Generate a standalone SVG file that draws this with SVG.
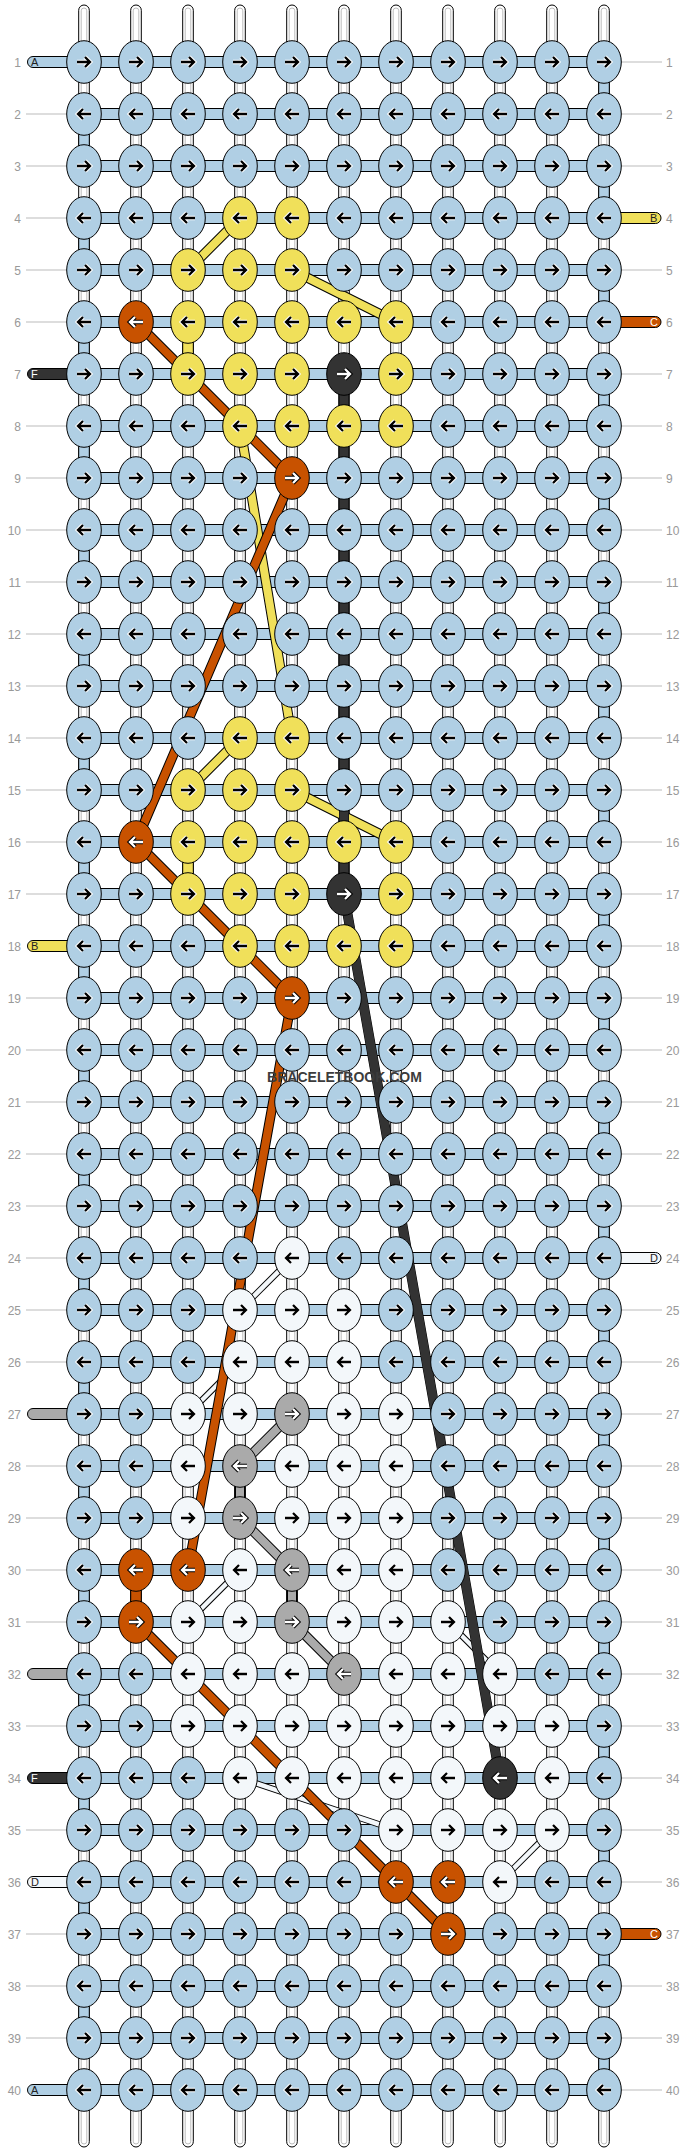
<svg xmlns="http://www.w3.org/2000/svg" xmlns:xlink="http://www.w3.org/1999/xlink" width="688" height="2152" viewBox="0 0 688 2152">
<style>
.b{fill:#b0cfe4}.y{fill:#f0e05a}.o{fill:#c85200}.k{fill:#333}.w{fill:#f3f7fa}.g{fill:#aaa}
.lb{fill:#999;font-family:"Liberation Sans",Arial,sans-serif;font-size:12px}
.tl{font-family:"Liberation Sans",Arial,sans-serif;font-size:11px;fill:#222}
.ll{stroke:#bbb;stroke-width:1}
.hb{fill:#b0cfe4;stroke:#000;stroke-width:1}
.ol{fill:none;stroke:#000;stroke-width:10;stroke-linejoin:round}
.olt{fill:none;stroke:#000;stroke-width:6.5;stroke-linejoin:round}
</style>
<defs>
<ellipse id="E" rx="17.3" ry="21.3" stroke="#000" stroke-width="1"/>
<g id="R" fill="none"><path d="M-7,0H5M1,-5L6,0L1,5" stroke="#fff" stroke-width="4.4"/><path d="M-7,0H5M1,-5L6,0L1,5" stroke="#000" stroke-width="2.3"/></g>
<g id="L" fill="none"><path d="M7,0H-5M-1,-5L-6,0L-1,5" stroke="#fff" stroke-width="4.4"/><path d="M7,0H-5M-1,-5L-6,0L-1,5" stroke="#000" stroke-width="2.3"/></g>
<g id="RW" fill="none"><path d="M-7,0H5M1,-5L6,0L1,5" stroke="#000" stroke-width="4.4"/><path d="M-7,0H5M1,-5L6,0L1,5" stroke="#fff" stroke-width="2.3"/></g>
<g id="LW" fill="none"><path d="M7,0H-5M-1,-5L-6,0L-1,5" stroke="#000" stroke-width="4.4"/><path d="M7,0H-5M-1,-5L-6,0L-1,5" stroke="#fff" stroke-width="2.3"/></g>
<g id="VS"><rect x="-5.3" y="0" width="10.6" height="2142" rx="5.3" fill="#fff" stroke="#000"/><rect x="-2.8" y="3" width="5.6" height="2136" rx="2.8" fill="none" stroke="#bdbdbd"/></g>
<rect id="VB" x="-5.3" y="15" width="10.6" height="22" class="b" stroke="#000"/>
</defs>
<rect width="688" height="2152" fill="#fff"/>
<g id="labels">
<g class="ll">
<line x1="26" y1="114" x2="68" y2="114"/><line x1="26" y1="166" x2="68" y2="166"/><line x1="26" y1="218" x2="68" y2="218"/><line x1="26" y1="270" x2="68" y2="270"/><line x1="26" y1="322" x2="68" y2="322"/><line x1="26" y1="426" x2="68" y2="426"/><line x1="26" y1="478" x2="68" y2="478"/><line x1="26" y1="530" x2="68" y2="530"/><line x1="26" y1="582" x2="68" y2="582"/><line x1="26" y1="634" x2="68" y2="634"/><line x1="26" y1="686" x2="68" y2="686"/><line x1="26" y1="738" x2="68" y2="738"/><line x1="26" y1="790" x2="68" y2="790"/><line x1="26" y1="842" x2="68" y2="842"/><line x1="26" y1="894" x2="68" y2="894"/><line x1="26" y1="998" x2="68" y2="998"/><line x1="26" y1="1050" x2="68" y2="1050"/><line x1="26" y1="1102" x2="68" y2="1102"/><line x1="26" y1="1154" x2="68" y2="1154"/><line x1="26" y1="1206" x2="68" y2="1206"/><line x1="26" y1="1258" x2="68" y2="1258"/><line x1="26" y1="1310" x2="68" y2="1310"/><line x1="26" y1="1362" x2="68" y2="1362"/><line x1="26" y1="1466" x2="68" y2="1466"/><line x1="26" y1="1518" x2="68" y2="1518"/><line x1="26" y1="1570" x2="68" y2="1570"/><line x1="26" y1="1622" x2="68" y2="1622"/><line x1="26" y1="1726" x2="68" y2="1726"/><line x1="26" y1="1830" x2="68" y2="1830"/><line x1="26" y1="1934" x2="68" y2="1934"/><line x1="26" y1="1986" x2="68" y2="1986"/><line x1="26" y1="2038" x2="68" y2="2038"/>
<line x1="620" y1="62" x2="662" y2="62"/><line x1="620" y1="114" x2="662" y2="114"/><line x1="620" y1="166" x2="662" y2="166"/><line x1="620" y1="270" x2="662" y2="270"/><line x1="620" y1="374" x2="662" y2="374"/><line x1="620" y1="426" x2="662" y2="426"/><line x1="620" y1="478" x2="662" y2="478"/><line x1="620" y1="530" x2="662" y2="530"/><line x1="620" y1="582" x2="662" y2="582"/><line x1="620" y1="634" x2="662" y2="634"/><line x1="620" y1="686" x2="662" y2="686"/><line x1="620" y1="738" x2="662" y2="738"/><line x1="620" y1="790" x2="662" y2="790"/><line x1="620" y1="842" x2="662" y2="842"/><line x1="620" y1="894" x2="662" y2="894"/><line x1="620" y1="946" x2="662" y2="946"/><line x1="620" y1="998" x2="662" y2="998"/><line x1="620" y1="1050" x2="662" y2="1050"/><line x1="620" y1="1102" x2="662" y2="1102"/><line x1="620" y1="1154" x2="662" y2="1154"/><line x1="620" y1="1206" x2="662" y2="1206"/><line x1="620" y1="1310" x2="662" y2="1310"/><line x1="620" y1="1362" x2="662" y2="1362"/><line x1="620" y1="1414" x2="662" y2="1414"/><line x1="620" y1="1466" x2="662" y2="1466"/><line x1="620" y1="1518" x2="662" y2="1518"/><line x1="620" y1="1570" x2="662" y2="1570"/><line x1="620" y1="1622" x2="662" y2="1622"/><line x1="620" y1="1674" x2="662" y2="1674"/><line x1="620" y1="1726" x2="662" y2="1726"/><line x1="620" y1="1778" x2="662" y2="1778"/><line x1="620" y1="1830" x2="662" y2="1830"/><line x1="620" y1="1882" x2="662" y2="1882"/><line x1="620" y1="1986" x2="662" y2="1986"/><line x1="620" y1="2038" x2="662" y2="2038"/><line x1="620" y1="2090" x2="662" y2="2090"/>
</g>
<g class="lb" text-anchor="end">
<text x="21" y="66.5">1</text><text x="21" y="118.5">2</text><text x="21" y="170.5">3</text><text x="21" y="222.5">4</text><text x="21" y="274.5">5</text><text x="21" y="326.5">6</text><text x="21" y="378.5">7</text><text x="21" y="430.5">8</text><text x="21" y="482.5">9</text><text x="21" y="534.5">10</text><text x="21" y="586.5">11</text><text x="21" y="638.5">12</text><text x="21" y="690.5">13</text><text x="21" y="742.5">14</text><text x="21" y="794.5">15</text><text x="21" y="846.5">16</text><text x="21" y="898.5">17</text><text x="21" y="950.5">18</text><text x="21" y="1002.5">19</text><text x="21" y="1054.5">20</text><text x="21" y="1106.5">21</text><text x="21" y="1158.5">22</text><text x="21" y="1210.5">23</text><text x="21" y="1262.5">24</text><text x="21" y="1314.5">25</text><text x="21" y="1366.5">26</text><text x="21" y="1418.5">27</text><text x="21" y="1470.5">28</text><text x="21" y="1522.5">29</text><text x="21" y="1574.5">30</text><text x="21" y="1626.5">31</text><text x="21" y="1678.5">32</text><text x="21" y="1730.5">33</text><text x="21" y="1782.5">34</text><text x="21" y="1834.5">35</text><text x="21" y="1886.5">36</text><text x="21" y="1938.5">37</text><text x="21" y="1990.5">38</text><text x="21" y="2042.5">39</text><text x="21" y="2094.5">40</text>
</g>
<g class="lb">
<text x="666" y="66.5">1</text><text x="666" y="118.5">2</text><text x="666" y="170.5">3</text><text x="666" y="222.5">4</text><text x="666" y="274.5">5</text><text x="666" y="326.5">6</text><text x="666" y="378.5">7</text><text x="666" y="430.5">8</text><text x="666" y="482.5">9</text><text x="666" y="534.5">10</text><text x="666" y="586.5">11</text><text x="666" y="638.5">12</text><text x="666" y="690.5">13</text><text x="666" y="742.5">14</text><text x="666" y="794.5">15</text><text x="666" y="846.5">16</text><text x="666" y="898.5">17</text><text x="666" y="950.5">18</text><text x="666" y="1002.5">19</text><text x="666" y="1054.5">20</text><text x="666" y="1106.5">21</text><text x="666" y="1158.5">22</text><text x="666" y="1210.5">23</text><text x="666" y="1262.5">24</text><text x="666" y="1314.5">25</text><text x="666" y="1366.5">26</text><text x="666" y="1418.5">27</text><text x="666" y="1470.5">28</text><text x="666" y="1522.5">29</text><text x="666" y="1574.5">30</text><text x="666" y="1626.5">31</text><text x="666" y="1678.5">32</text><text x="666" y="1730.5">33</text><text x="666" y="1782.5">34</text><text x="666" y="1834.5">35</text><text x="666" y="1886.5">36</text><text x="666" y="1938.5">37</text><text x="666" y="1990.5">38</text><text x="666" y="2042.5">39</text><text x="666" y="2094.5">40</text>
</g>
</g>
<g id="connectors">
<use href="#VS" x="84" y="5"/><use href="#VS" x="136" y="5"/><use href="#VS" x="188" y="5"/><use href="#VS" x="240" y="5"/><use href="#VS" x="292" y="5"/><use href="#VS" x="344" y="5"/><use href="#VS" x="396" y="5"/><use href="#VS" x="448" y="5"/><use href="#VS" x="500" y="5"/><use href="#VS" x="552" y="5"/><use href="#VS" x="604" y="5"/>
<g id="edges">
<use href="#VB" x="604" y="62"/><use href="#VB" x="604" y="166"/><use href="#VB" x="604" y="270"/><use href="#VB" x="604" y="374"/><use href="#VB" x="604" y="478"/><use href="#VB" x="604" y="582"/><use href="#VB" x="604" y="686"/><use href="#VB" x="604" y="790"/><use href="#VB" x="604" y="894"/><use href="#VB" x="604" y="998"/><use href="#VB" x="604" y="1102"/><use href="#VB" x="604" y="1206"/><use href="#VB" x="604" y="1310"/><use href="#VB" x="604" y="1414"/><use href="#VB" x="604" y="1518"/><use href="#VB" x="604" y="1622"/><use href="#VB" x="604" y="1726"/><use href="#VB" x="604" y="1830"/><use href="#VB" x="604" y="1934"/><use href="#VB" x="604" y="2038"/>
<use href="#VB" x="84" y="114"/><use href="#VB" x="84" y="218"/><use href="#VB" x="84" y="322"/><use href="#VB" x="84" y="426"/><use href="#VB" x="84" y="530"/><use href="#VB" x="84" y="634"/><use href="#VB" x="84" y="738"/><use href="#VB" x="84" y="842"/><use href="#VB" x="84" y="946"/><use href="#VB" x="84" y="1050"/><use href="#VB" x="84" y="1154"/><use href="#VB" x="84" y="1258"/><use href="#VB" x="84" y="1362"/><use href="#VB" x="84" y="1466"/><use href="#VB" x="84" y="1570"/><use href="#VB" x="84" y="1674"/><use href="#VB" x="84" y="1778"/><use href="#VB" x="84" y="1882"/><use href="#VB" x="84" y="1986"/>
</g>
<g id="rowbars" class="hb">
<rect x="84" y="56.5" width="520" height="11"/><rect x="84" y="108.5" width="520" height="11"/><rect x="84" y="160.5" width="520" height="11"/><rect x="84" y="212.5" width="520" height="11"/><rect x="84" y="264.5" width="520" height="11"/><rect x="84" y="316.5" width="520" height="11"/><rect x="84" y="368.5" width="520" height="11"/><rect x="84" y="420.5" width="520" height="11"/><rect x="84" y="472.5" width="520" height="11"/><rect x="84" y="524.5" width="520" height="11"/><rect x="84" y="576.5" width="520" height="11"/><rect x="84" y="628.5" width="520" height="11"/><rect x="84" y="680.5" width="520" height="11"/><rect x="84" y="732.5" width="520" height="11"/><rect x="84" y="784.5" width="520" height="11"/><rect x="84" y="836.5" width="520" height="11"/><rect x="84" y="888.5" width="520" height="11"/><rect x="84" y="940.5" width="520" height="11"/><rect x="84" y="992.5" width="520" height="11"/><rect x="84" y="1044.5" width="520" height="11"/><rect x="84" y="1096.5" width="520" height="11"/><rect x="84" y="1148.5" width="520" height="11"/><rect x="84" y="1200.5" width="520" height="11"/><rect x="84" y="1252.5" width="520" height="11"/><rect x="84" y="1304.5" width="520" height="11"/><rect x="84" y="1356.5" width="520" height="11"/><rect x="84" y="1408.5" width="520" height="11"/><rect x="84" y="1460.5" width="520" height="11"/><rect x="84" y="1512.5" width="520" height="11"/><rect x="84" y="1564.5" width="520" height="11"/><rect x="84" y="1616.5" width="520" height="11"/><rect x="84" y="1668.5" width="520" height="11"/><rect x="84" y="1720.5" width="520" height="11"/><rect x="84" y="1772.5" width="520" height="11"/><rect x="84" y="1824.5" width="520" height="11"/><rect x="84" y="1876.5" width="520" height="11"/><rect x="84" y="1928.5" width="520" height="11"/><rect x="84" y="1980.5" width="520" height="11"/><rect x="84" y="2032.5" width="520" height="11"/><rect x="84" y="2084.5" width="520" height="11"/>
</g>
<g id="tails" stroke="#000" stroke-width="1">
<rect x="27.5" y="56.5" width="60" height="11" rx="5.5" class="b"/>
<rect x="27.5" y="368.5" width="60" height="11" rx="5.5" class="k"/>
<rect x="27.5" y="940.5" width="60" height="11" rx="5.5" class="y"/>
<rect x="27.5" y="1408.5" width="60" height="11" rx="5.5" class="g"/>
<rect x="27.5" y="1668.5" width="60" height="11" rx="5.5" class="g"/>
<rect x="27.5" y="1772.5" width="60" height="11" rx="5.5" class="k"/>
<rect x="27.5" y="1876.5" width="60" height="11" rx="5.5" class="w"/>
<rect x="27.5" y="2084.5" width="60" height="11" rx="5.5" class="b"/>
<rect x="600" y="212.5" width="61" height="11" rx="5.5" class="y"/>
<rect x="600" y="316.5" width="61" height="11" rx="5.5" class="o"/>
<rect x="600" y="1252.5" width="61" height="11" rx="5.5" class="w"/>
<rect x="600" y="1928.5" width="61" height="11" rx="5.5" class="o"/>
</g>
<g id="tailtext" class="tl">
<text x="31" y="66">A</text><text x="31" y="378" fill="#fff">F</text><text x="31" y="950">B</text><text x="31" y="1782" fill="#fff">F</text><text x="31" y="1886">D</text><text x="31" y="2094">A</text>
<text x="650" y="222">B</text><text x="650" y="326" fill="#fff">C</text><text x="650" y="1262">D</text><text x="650" y="1938" fill="#fff">C</text>
</g>
<g id="vcolored" stroke="#000">
<rect x="182.7" y="337" width="10.6" height="22" class="y"/>
<rect x="182.7" y="857" width="10.6" height="22" class="y"/>
<rect x="130.7" y="1585" width="10.6" height="22" class="o"/>
<rect x="234.7" y="1481" width="10.6" height="22" class="g"/>
<rect x="286.7" y="1585" width="10.6" height="22" class="g"/>
</g>
<g id="bands">
<polyline class="olt" points="292,1258 240,1310"/><polyline fill="none" stroke="#f3f7fa" stroke-width="4.5" points="292,1258 240,1310"/>
<polyline class="olt" points="240,1362 188,1414"/><polyline fill="none" stroke="#f3f7fa" stroke-width="4.5" points="240,1362 188,1414"/>
<polyline class="olt" points="240,1570 188,1622"/><polyline fill="none" stroke="#f3f7fa" stroke-width="4.5" points="240,1570 188,1622"/>
<polyline class="olt" points="448,1622 500,1674"/><polyline fill="none" stroke="#f3f7fa" stroke-width="4.5" points="448,1622 500,1674"/>
<polyline class="olt" points="552,1830 500,1882"/><polyline fill="none" stroke="#f3f7fa" stroke-width="4.5" points="552,1830 500,1882"/>
<polyline class="olt" points="240,1778 396,1830"/><polyline fill="none" stroke="#f3f7fa" stroke-width="4.5" points="240,1778 396,1830"/>
<polyline class="ol" points="240,218 188,270"/><polyline fill="none" stroke="#f0e05a" stroke-width="8" points="240,218 188,270"/>
<polyline class="ol" points="292,270 396,322"/><polyline fill="none" stroke="#f0e05a" stroke-width="8" points="292,270 396,322"/>
<polyline class="ol" points="240,426 292,738"/><polyline fill="none" stroke="#f0e05a" stroke-width="8" points="240,426 292,738"/>
<polyline class="ol" points="240,738 188,790"/><polyline fill="none" stroke="#f0e05a" stroke-width="8" points="240,738 188,790"/>
<polyline class="ol" points="292,790 396,842"/><polyline fill="none" stroke="#f0e05a" stroke-width="8" points="292,790 396,842"/>
<polyline class="ol" points="292,1414 240,1466 240,1518 292,1570 292,1622 344,1674"/><polyline fill="none" stroke="#aaa" stroke-width="8" stroke-linejoin="round" points="292,1414 240,1466 240,1518 292,1570 292,1622 344,1674"/>
<polyline class="ol" points="136,322 188,374 240,426 292,478 136,842 188,894 240,946 292,998 188,1570"/><polyline fill="none" stroke="#c85200" stroke-width="8" stroke-linejoin="round" points="136,322 188,374 240,426 292,478 136,842 188,894 240,946 292,998 188,1570"/>
<polyline class="ol" points="136,1622 188,1674 344,1830 396,1882 448,1934"/><polyline fill="none" stroke="#c85200" stroke-width="8" stroke-linejoin="round" points="136,1622 188,1674 344,1830 396,1882 448,1934"/>
<polyline class="ol" stroke-width="11" points="344,374 344,894 500,1778"/><polyline fill="none" stroke="#333" stroke-width="9" stroke-linejoin="round" points="344,374 344,894 500,1778"/>
</g>
</g>
<g id="nodes">
<g id="n1_1" class="b" transform="translate(84,62)"><use href="#E"/><use href="#R"/></g><g id="n1_2" class="b" transform="translate(136,62)"><use href="#E"/><use href="#R"/></g><g id="n1_3" class="b" transform="translate(188,62)"><use href="#E"/><use href="#R"/></g><g id="n1_4" class="b" transform="translate(240,62)"><use href="#E"/><use href="#R"/></g><g id="n1_5" class="b" transform="translate(292,62)"><use href="#E"/><use href="#R"/></g><g id="n1_6" class="b" transform="translate(344,62)"><use href="#E"/><use href="#R"/></g><g id="n1_7" class="b" transform="translate(396,62)"><use href="#E"/><use href="#R"/></g><g id="n1_8" class="b" transform="translate(448,62)"><use href="#E"/><use href="#R"/></g><g id="n1_9" class="b" transform="translate(500,62)"><use href="#E"/><use href="#R"/></g><g id="n1_10" class="b" transform="translate(552,62)"><use href="#E"/><use href="#R"/></g><g id="n1_11" class="b" transform="translate(604,62)"><use href="#E"/><use href="#R"/></g>
<g id="n2_1" class="b" transform="translate(84,114)"><use href="#E"/><use href="#L"/></g><g id="n2_2" class="b" transform="translate(136,114)"><use href="#E"/><use href="#L"/></g><g id="n2_3" class="b" transform="translate(188,114)"><use href="#E"/><use href="#L"/></g><g id="n2_4" class="b" transform="translate(240,114)"><use href="#E"/><use href="#L"/></g><g id="n2_5" class="b" transform="translate(292,114)"><use href="#E"/><use href="#L"/></g><g id="n2_6" class="b" transform="translate(344,114)"><use href="#E"/><use href="#L"/></g><g id="n2_7" class="b" transform="translate(396,114)"><use href="#E"/><use href="#L"/></g><g id="n2_8" class="b" transform="translate(448,114)"><use href="#E"/><use href="#L"/></g><g id="n2_9" class="b" transform="translate(500,114)"><use href="#E"/><use href="#L"/></g><g id="n2_10" class="b" transform="translate(552,114)"><use href="#E"/><use href="#L"/></g><g id="n2_11" class="b" transform="translate(604,114)"><use href="#E"/><use href="#L"/></g>
<g id="n3_1" class="b" transform="translate(84,166)"><use href="#E"/><use href="#R"/></g><g id="n3_2" class="b" transform="translate(136,166)"><use href="#E"/><use href="#R"/></g><g id="n3_3" class="b" transform="translate(188,166)"><use href="#E"/><use href="#R"/></g><g id="n3_4" class="b" transform="translate(240,166)"><use href="#E"/><use href="#R"/></g><g id="n3_5" class="b" transform="translate(292,166)"><use href="#E"/><use href="#R"/></g><g id="n3_6" class="b" transform="translate(344,166)"><use href="#E"/><use href="#R"/></g><g id="n3_7" class="b" transform="translate(396,166)"><use href="#E"/><use href="#R"/></g><g id="n3_8" class="b" transform="translate(448,166)"><use href="#E"/><use href="#R"/></g><g id="n3_9" class="b" transform="translate(500,166)"><use href="#E"/><use href="#R"/></g><g id="n3_10" class="b" transform="translate(552,166)"><use href="#E"/><use href="#R"/></g><g id="n3_11" class="b" transform="translate(604,166)"><use href="#E"/><use href="#R"/></g>
<g id="n4_1" class="b" transform="translate(84,218)"><use href="#E"/><use href="#L"/></g><g id="n4_2" class="b" transform="translate(136,218)"><use href="#E"/><use href="#L"/></g><g id="n4_3" class="b" transform="translate(188,218)"><use href="#E"/><use href="#L"/></g><g id="n4_4" class="y" transform="translate(240,218)"><use href="#E"/><use href="#L"/></g><g id="n4_5" class="y" transform="translate(292,218)"><use href="#E"/><use href="#L"/></g><g id="n4_6" class="b" transform="translate(344,218)"><use href="#E"/><use href="#L"/></g><g id="n4_7" class="b" transform="translate(396,218)"><use href="#E"/><use href="#L"/></g><g id="n4_8" class="b" transform="translate(448,218)"><use href="#E"/><use href="#L"/></g><g id="n4_9" class="b" transform="translate(500,218)"><use href="#E"/><use href="#L"/></g><g id="n4_10" class="b" transform="translate(552,218)"><use href="#E"/><use href="#L"/></g><g id="n4_11" class="b" transform="translate(604,218)"><use href="#E"/><use href="#L"/></g>
<g id="n5_1" class="b" transform="translate(84,270)"><use href="#E"/><use href="#R"/></g><g id="n5_2" class="b" transform="translate(136,270)"><use href="#E"/><use href="#R"/></g><g id="n5_3" class="y" transform="translate(188,270)"><use href="#E"/><use href="#R"/></g><g id="n5_4" class="y" transform="translate(240,270)"><use href="#E"/><use href="#R"/></g><g id="n5_5" class="y" transform="translate(292,270)"><use href="#E"/><use href="#R"/></g><g id="n5_6" class="b" transform="translate(344,270)"><use href="#E"/><use href="#R"/></g><g id="n5_7" class="b" transform="translate(396,270)"><use href="#E"/><use href="#R"/></g><g id="n5_8" class="b" transform="translate(448,270)"><use href="#E"/><use href="#R"/></g><g id="n5_9" class="b" transform="translate(500,270)"><use href="#E"/><use href="#R"/></g><g id="n5_10" class="b" transform="translate(552,270)"><use href="#E"/><use href="#R"/></g><g id="n5_11" class="b" transform="translate(604,270)"><use href="#E"/><use href="#R"/></g>
<g id="n6_1" class="b" transform="translate(84,322)"><use href="#E"/><use href="#L"/></g><g id="n6_2" class="o" transform="translate(136,322)"><use href="#E"/><use href="#LW"/></g><g id="n6_3" class="y" transform="translate(188,322)"><use href="#E"/><use href="#L"/></g><g id="n6_4" class="y" transform="translate(240,322)"><use href="#E"/><use href="#L"/></g><g id="n6_5" class="y" transform="translate(292,322)"><use href="#E"/><use href="#L"/></g><g id="n6_6" class="y" transform="translate(344,322)"><use href="#E"/><use href="#L"/></g><g id="n6_7" class="y" transform="translate(396,322)"><use href="#E"/><use href="#L"/></g><g id="n6_8" class="b" transform="translate(448,322)"><use href="#E"/><use href="#L"/></g><g id="n6_9" class="b" transform="translate(500,322)"><use href="#E"/><use href="#L"/></g><g id="n6_10" class="b" transform="translate(552,322)"><use href="#E"/><use href="#L"/></g><g id="n6_11" class="b" transform="translate(604,322)"><use href="#E"/><use href="#L"/></g>
<g id="n7_1" class="b" transform="translate(84,374)"><use href="#E"/><use href="#R"/></g><g id="n7_2" class="b" transform="translate(136,374)"><use href="#E"/><use href="#R"/></g><g id="n7_3" class="y" transform="translate(188,374)"><use href="#E"/><use href="#R"/></g><g id="n7_4" class="y" transform="translate(240,374)"><use href="#E"/><use href="#R"/></g><g id="n7_5" class="y" transform="translate(292,374)"><use href="#E"/><use href="#R"/></g><g id="n7_6" class="k" transform="translate(344,374)"><use href="#E"/><use href="#RW"/></g><g id="n7_7" class="y" transform="translate(396,374)"><use href="#E"/><use href="#R"/></g><g id="n7_8" class="b" transform="translate(448,374)"><use href="#E"/><use href="#R"/></g><g id="n7_9" class="b" transform="translate(500,374)"><use href="#E"/><use href="#R"/></g><g id="n7_10" class="b" transform="translate(552,374)"><use href="#E"/><use href="#R"/></g><g id="n7_11" class="b" transform="translate(604,374)"><use href="#E"/><use href="#R"/></g>
<g id="n8_1" class="b" transform="translate(84,426)"><use href="#E"/><use href="#L"/></g><g id="n8_2" class="b" transform="translate(136,426)"><use href="#E"/><use href="#L"/></g><g id="n8_3" class="b" transform="translate(188,426)"><use href="#E"/><use href="#L"/></g><g id="n8_4" class="y" transform="translate(240,426)"><use href="#E"/><use href="#L"/></g><g id="n8_5" class="y" transform="translate(292,426)"><use href="#E"/><use href="#L"/></g><g id="n8_6" class="y" transform="translate(344,426)"><use href="#E"/><use href="#L"/></g><g id="n8_7" class="y" transform="translate(396,426)"><use href="#E"/><use href="#L"/></g><g id="n8_8" class="b" transform="translate(448,426)"><use href="#E"/><use href="#L"/></g><g id="n8_9" class="b" transform="translate(500,426)"><use href="#E"/><use href="#L"/></g><g id="n8_10" class="b" transform="translate(552,426)"><use href="#E"/><use href="#L"/></g><g id="n8_11" class="b" transform="translate(604,426)"><use href="#E"/><use href="#L"/></g>
<g id="n9_1" class="b" transform="translate(84,478)"><use href="#E"/><use href="#R"/></g><g id="n9_2" class="b" transform="translate(136,478)"><use href="#E"/><use href="#R"/></g><g id="n9_3" class="b" transform="translate(188,478)"><use href="#E"/><use href="#R"/></g><g id="n9_4" class="b" transform="translate(240,478)"><use href="#E"/><use href="#R"/></g><g id="n9_5" class="o" transform="translate(292,478)"><use href="#E"/><use href="#RW"/></g><g id="n9_6" class="b" transform="translate(344,478)"><use href="#E"/><use href="#R"/></g><g id="n9_7" class="b" transform="translate(396,478)"><use href="#E"/><use href="#R"/></g><g id="n9_8" class="b" transform="translate(448,478)"><use href="#E"/><use href="#R"/></g><g id="n9_9" class="b" transform="translate(500,478)"><use href="#E"/><use href="#R"/></g><g id="n9_10" class="b" transform="translate(552,478)"><use href="#E"/><use href="#R"/></g><g id="n9_11" class="b" transform="translate(604,478)"><use href="#E"/><use href="#R"/></g>
<g id="n10_1" class="b" transform="translate(84,530)"><use href="#E"/><use href="#L"/></g><g id="n10_2" class="b" transform="translate(136,530)"><use href="#E"/><use href="#L"/></g><g id="n10_3" class="b" transform="translate(188,530)"><use href="#E"/><use href="#L"/></g><g id="n10_4" class="b" transform="translate(240,530)"><use href="#E"/><use href="#L"/></g><g id="n10_5" class="b" transform="translate(292,530)"><use href="#E"/><use href="#L"/></g><g id="n10_6" class="b" transform="translate(344,530)"><use href="#E"/><use href="#L"/></g><g id="n10_7" class="b" transform="translate(396,530)"><use href="#E"/><use href="#L"/></g><g id="n10_8" class="b" transform="translate(448,530)"><use href="#E"/><use href="#L"/></g><g id="n10_9" class="b" transform="translate(500,530)"><use href="#E"/><use href="#L"/></g><g id="n10_10" class="b" transform="translate(552,530)"><use href="#E"/><use href="#L"/></g><g id="n10_11" class="b" transform="translate(604,530)"><use href="#E"/><use href="#L"/></g>
<g id="n11_1" class="b" transform="translate(84,582)"><use href="#E"/><use href="#R"/></g><g id="n11_2" class="b" transform="translate(136,582)"><use href="#E"/><use href="#R"/></g><g id="n11_3" class="b" transform="translate(188,582)"><use href="#E"/><use href="#R"/></g><g id="n11_4" class="b" transform="translate(240,582)"><use href="#E"/><use href="#R"/></g><g id="n11_5" class="b" transform="translate(292,582)"><use href="#E"/><use href="#R"/></g><g id="n11_6" class="b" transform="translate(344,582)"><use href="#E"/><use href="#R"/></g><g id="n11_7" class="b" transform="translate(396,582)"><use href="#E"/><use href="#R"/></g><g id="n11_8" class="b" transform="translate(448,582)"><use href="#E"/><use href="#R"/></g><g id="n11_9" class="b" transform="translate(500,582)"><use href="#E"/><use href="#R"/></g><g id="n11_10" class="b" transform="translate(552,582)"><use href="#E"/><use href="#R"/></g><g id="n11_11" class="b" transform="translate(604,582)"><use href="#E"/><use href="#R"/></g>
<g id="n12_1" class="b" transform="translate(84,634)"><use href="#E"/><use href="#L"/></g><g id="n12_2" class="b" transform="translate(136,634)"><use href="#E"/><use href="#L"/></g><g id="n12_3" class="b" transform="translate(188,634)"><use href="#E"/><use href="#L"/></g><g id="n12_4" class="b" transform="translate(240,634)"><use href="#E"/><use href="#L"/></g><g id="n12_5" class="b" transform="translate(292,634)"><use href="#E"/><use href="#L"/></g><g id="n12_6" class="b" transform="translate(344,634)"><use href="#E"/><use href="#L"/></g><g id="n12_7" class="b" transform="translate(396,634)"><use href="#E"/><use href="#L"/></g><g id="n12_8" class="b" transform="translate(448,634)"><use href="#E"/><use href="#L"/></g><g id="n12_9" class="b" transform="translate(500,634)"><use href="#E"/><use href="#L"/></g><g id="n12_10" class="b" transform="translate(552,634)"><use href="#E"/><use href="#L"/></g><g id="n12_11" class="b" transform="translate(604,634)"><use href="#E"/><use href="#L"/></g>
<g id="n13_1" class="b" transform="translate(84,686)"><use href="#E"/><use href="#R"/></g><g id="n13_2" class="b" transform="translate(136,686)"><use href="#E"/><use href="#R"/></g><g id="n13_3" class="b" transform="translate(188,686)"><use href="#E"/><use href="#R"/></g><g id="n13_4" class="b" transform="translate(240,686)"><use href="#E"/><use href="#R"/></g><g id="n13_5" class="b" transform="translate(292,686)"><use href="#E"/><use href="#R"/></g><g id="n13_6" class="b" transform="translate(344,686)"><use href="#E"/><use href="#R"/></g><g id="n13_7" class="b" transform="translate(396,686)"><use href="#E"/><use href="#R"/></g><g id="n13_8" class="b" transform="translate(448,686)"><use href="#E"/><use href="#R"/></g><g id="n13_9" class="b" transform="translate(500,686)"><use href="#E"/><use href="#R"/></g><g id="n13_10" class="b" transform="translate(552,686)"><use href="#E"/><use href="#R"/></g><g id="n13_11" class="b" transform="translate(604,686)"><use href="#E"/><use href="#R"/></g>
<g id="n14_1" class="b" transform="translate(84,738)"><use href="#E"/><use href="#L"/></g><g id="n14_2" class="b" transform="translate(136,738)"><use href="#E"/><use href="#L"/></g><g id="n14_3" class="b" transform="translate(188,738)"><use href="#E"/><use href="#L"/></g><g id="n14_4" class="y" transform="translate(240,738)"><use href="#E"/><use href="#L"/></g><g id="n14_5" class="y" transform="translate(292,738)"><use href="#E"/><use href="#L"/></g><g id="n14_6" class="b" transform="translate(344,738)"><use href="#E"/><use href="#L"/></g><g id="n14_7" class="b" transform="translate(396,738)"><use href="#E"/><use href="#L"/></g><g id="n14_8" class="b" transform="translate(448,738)"><use href="#E"/><use href="#L"/></g><g id="n14_9" class="b" transform="translate(500,738)"><use href="#E"/><use href="#L"/></g><g id="n14_10" class="b" transform="translate(552,738)"><use href="#E"/><use href="#L"/></g><g id="n14_11" class="b" transform="translate(604,738)"><use href="#E"/><use href="#L"/></g>
<g id="n15_1" class="b" transform="translate(84,790)"><use href="#E"/><use href="#R"/></g><g id="n15_2" class="b" transform="translate(136,790)"><use href="#E"/><use href="#R"/></g><g id="n15_3" class="y" transform="translate(188,790)"><use href="#E"/><use href="#R"/></g><g id="n15_4" class="y" transform="translate(240,790)"><use href="#E"/><use href="#R"/></g><g id="n15_5" class="y" transform="translate(292,790)"><use href="#E"/><use href="#R"/></g><g id="n15_6" class="b" transform="translate(344,790)"><use href="#E"/><use href="#R"/></g><g id="n15_7" class="b" transform="translate(396,790)"><use href="#E"/><use href="#R"/></g><g id="n15_8" class="b" transform="translate(448,790)"><use href="#E"/><use href="#R"/></g><g id="n15_9" class="b" transform="translate(500,790)"><use href="#E"/><use href="#R"/></g><g id="n15_10" class="b" transform="translate(552,790)"><use href="#E"/><use href="#R"/></g><g id="n15_11" class="b" transform="translate(604,790)"><use href="#E"/><use href="#R"/></g>
<g id="n16_1" class="b" transform="translate(84,842)"><use href="#E"/><use href="#L"/></g><g id="n16_2" class="o" transform="translate(136,842)"><use href="#E"/><use href="#LW"/></g><g id="n16_3" class="y" transform="translate(188,842)"><use href="#E"/><use href="#L"/></g><g id="n16_4" class="y" transform="translate(240,842)"><use href="#E"/><use href="#L"/></g><g id="n16_5" class="y" transform="translate(292,842)"><use href="#E"/><use href="#L"/></g><g id="n16_6" class="y" transform="translate(344,842)"><use href="#E"/><use href="#L"/></g><g id="n16_7" class="y" transform="translate(396,842)"><use href="#E"/><use href="#L"/></g><g id="n16_8" class="b" transform="translate(448,842)"><use href="#E"/><use href="#L"/></g><g id="n16_9" class="b" transform="translate(500,842)"><use href="#E"/><use href="#L"/></g><g id="n16_10" class="b" transform="translate(552,842)"><use href="#E"/><use href="#L"/></g><g id="n16_11" class="b" transform="translate(604,842)"><use href="#E"/><use href="#L"/></g>
<g id="n17_1" class="b" transform="translate(84,894)"><use href="#E"/><use href="#R"/></g><g id="n17_2" class="b" transform="translate(136,894)"><use href="#E"/><use href="#R"/></g><g id="n17_3" class="y" transform="translate(188,894)"><use href="#E"/><use href="#R"/></g><g id="n17_4" class="y" transform="translate(240,894)"><use href="#E"/><use href="#R"/></g><g id="n17_5" class="y" transform="translate(292,894)"><use href="#E"/><use href="#R"/></g><g id="n17_6" class="k" transform="translate(344,894)"><use href="#E"/><use href="#RW"/></g><g id="n17_7" class="y" transform="translate(396,894)"><use href="#E"/><use href="#R"/></g><g id="n17_8" class="b" transform="translate(448,894)"><use href="#E"/><use href="#R"/></g><g id="n17_9" class="b" transform="translate(500,894)"><use href="#E"/><use href="#R"/></g><g id="n17_10" class="b" transform="translate(552,894)"><use href="#E"/><use href="#R"/></g><g id="n17_11" class="b" transform="translate(604,894)"><use href="#E"/><use href="#R"/></g>
<g id="n18_1" class="b" transform="translate(84,946)"><use href="#E"/><use href="#L"/></g><g id="n18_2" class="b" transform="translate(136,946)"><use href="#E"/><use href="#L"/></g><g id="n18_3" class="b" transform="translate(188,946)"><use href="#E"/><use href="#L"/></g><g id="n18_4" class="y" transform="translate(240,946)"><use href="#E"/><use href="#L"/></g><g id="n18_5" class="y" transform="translate(292,946)"><use href="#E"/><use href="#L"/></g><g id="n18_6" class="y" transform="translate(344,946)"><use href="#E"/><use href="#L"/></g><g id="n18_7" class="y" transform="translate(396,946)"><use href="#E"/><use href="#L"/></g><g id="n18_8" class="b" transform="translate(448,946)"><use href="#E"/><use href="#L"/></g><g id="n18_9" class="b" transform="translate(500,946)"><use href="#E"/><use href="#L"/></g><g id="n18_10" class="b" transform="translate(552,946)"><use href="#E"/><use href="#L"/></g><g id="n18_11" class="b" transform="translate(604,946)"><use href="#E"/><use href="#L"/></g>
<g id="n19_1" class="b" transform="translate(84,998)"><use href="#E"/><use href="#R"/></g><g id="n19_2" class="b" transform="translate(136,998)"><use href="#E"/><use href="#R"/></g><g id="n19_3" class="b" transform="translate(188,998)"><use href="#E"/><use href="#R"/></g><g id="n19_4" class="b" transform="translate(240,998)"><use href="#E"/><use href="#R"/></g><g id="n19_5" class="o" transform="translate(292,998)"><use href="#E"/><use href="#RW"/></g><g id="n19_6" class="b" transform="translate(344,998)"><use href="#E"/><use href="#R"/></g><g id="n19_7" class="b" transform="translate(396,998)"><use href="#E"/><use href="#R"/></g><g id="n19_8" class="b" transform="translate(448,998)"><use href="#E"/><use href="#R"/></g><g id="n19_9" class="b" transform="translate(500,998)"><use href="#E"/><use href="#R"/></g><g id="n19_10" class="b" transform="translate(552,998)"><use href="#E"/><use href="#R"/></g><g id="n19_11" class="b" transform="translate(604,998)"><use href="#E"/><use href="#R"/></g>
<g id="n20_1" class="b" transform="translate(84,1050)"><use href="#E"/><use href="#L"/></g><g id="n20_2" class="b" transform="translate(136,1050)"><use href="#E"/><use href="#L"/></g><g id="n20_3" class="b" transform="translate(188,1050)"><use href="#E"/><use href="#L"/></g><g id="n20_4" class="b" transform="translate(240,1050)"><use href="#E"/><use href="#L"/></g><g id="n20_5" class="b" transform="translate(292,1050)"><use href="#E"/><use href="#L"/></g><g id="n20_6" class="b" transform="translate(344,1050)"><use href="#E"/><use href="#L"/></g><g id="n20_7" class="b" transform="translate(396,1050)"><use href="#E"/><use href="#L"/></g><g id="n20_8" class="b" transform="translate(448,1050)"><use href="#E"/><use href="#L"/></g><g id="n20_9" class="b" transform="translate(500,1050)"><use href="#E"/><use href="#L"/></g><g id="n20_10" class="b" transform="translate(552,1050)"><use href="#E"/><use href="#L"/></g><g id="n20_11" class="b" transform="translate(604,1050)"><use href="#E"/><use href="#L"/></g>
<g id="n21_1" class="b" transform="translate(84,1102)"><use href="#E"/><use href="#R"/></g><g id="n21_2" class="b" transform="translate(136,1102)"><use href="#E"/><use href="#R"/></g><g id="n21_3" class="b" transform="translate(188,1102)"><use href="#E"/><use href="#R"/></g><g id="n21_4" class="b" transform="translate(240,1102)"><use href="#E"/><use href="#R"/></g><g id="n21_5" class="b" transform="translate(292,1102)"><use href="#E"/><use href="#R"/></g><g id="n21_6" class="b" transform="translate(344,1102)"><use href="#E"/><use href="#R"/></g><g id="n21_7" class="b" transform="translate(396,1102)"><use href="#E"/><use href="#R"/></g><g id="n21_8" class="b" transform="translate(448,1102)"><use href="#E"/><use href="#R"/></g><g id="n21_9" class="b" transform="translate(500,1102)"><use href="#E"/><use href="#R"/></g><g id="n21_10" class="b" transform="translate(552,1102)"><use href="#E"/><use href="#R"/></g><g id="n21_11" class="b" transform="translate(604,1102)"><use href="#E"/><use href="#R"/></g>
<g id="n22_1" class="b" transform="translate(84,1154)"><use href="#E"/><use href="#L"/></g><g id="n22_2" class="b" transform="translate(136,1154)"><use href="#E"/><use href="#L"/></g><g id="n22_3" class="b" transform="translate(188,1154)"><use href="#E"/><use href="#L"/></g><g id="n22_4" class="b" transform="translate(240,1154)"><use href="#E"/><use href="#L"/></g><g id="n22_5" class="b" transform="translate(292,1154)"><use href="#E"/><use href="#L"/></g><g id="n22_6" class="b" transform="translate(344,1154)"><use href="#E"/><use href="#L"/></g><g id="n22_7" class="b" transform="translate(396,1154)"><use href="#E"/><use href="#L"/></g><g id="n22_8" class="b" transform="translate(448,1154)"><use href="#E"/><use href="#L"/></g><g id="n22_9" class="b" transform="translate(500,1154)"><use href="#E"/><use href="#L"/></g><g id="n22_10" class="b" transform="translate(552,1154)"><use href="#E"/><use href="#L"/></g><g id="n22_11" class="b" transform="translate(604,1154)"><use href="#E"/><use href="#L"/></g>
<g id="n23_1" class="b" transform="translate(84,1206)"><use href="#E"/><use href="#R"/></g><g id="n23_2" class="b" transform="translate(136,1206)"><use href="#E"/><use href="#R"/></g><g id="n23_3" class="b" transform="translate(188,1206)"><use href="#E"/><use href="#R"/></g><g id="n23_4" class="b" transform="translate(240,1206)"><use href="#E"/><use href="#R"/></g><g id="n23_5" class="b" transform="translate(292,1206)"><use href="#E"/><use href="#R"/></g><g id="n23_6" class="b" transform="translate(344,1206)"><use href="#E"/><use href="#R"/></g><g id="n23_7" class="b" transform="translate(396,1206)"><use href="#E"/><use href="#R"/></g><g id="n23_8" class="b" transform="translate(448,1206)"><use href="#E"/><use href="#R"/></g><g id="n23_9" class="b" transform="translate(500,1206)"><use href="#E"/><use href="#R"/></g><g id="n23_10" class="b" transform="translate(552,1206)"><use href="#E"/><use href="#R"/></g><g id="n23_11" class="b" transform="translate(604,1206)"><use href="#E"/><use href="#R"/></g>
<g id="n24_1" class="b" transform="translate(84,1258)"><use href="#E"/><use href="#L"/></g><g id="n24_2" class="b" transform="translate(136,1258)"><use href="#E"/><use href="#L"/></g><g id="n24_3" class="b" transform="translate(188,1258)"><use href="#E"/><use href="#L"/></g><g id="n24_4" class="b" transform="translate(240,1258)"><use href="#E"/><use href="#L"/></g><g id="n24_5" class="w" transform="translate(292,1258)"><use href="#E"/><use href="#L"/></g><g id="n24_6" class="b" transform="translate(344,1258)"><use href="#E"/><use href="#L"/></g><g id="n24_7" class="b" transform="translate(396,1258)"><use href="#E"/><use href="#L"/></g><g id="n24_8" class="b" transform="translate(448,1258)"><use href="#E"/><use href="#L"/></g><g id="n24_9" class="b" transform="translate(500,1258)"><use href="#E"/><use href="#L"/></g><g id="n24_10" class="b" transform="translate(552,1258)"><use href="#E"/><use href="#L"/></g><g id="n24_11" class="b" transform="translate(604,1258)"><use href="#E"/><use href="#L"/></g>
<g id="n25_1" class="b" transform="translate(84,1310)"><use href="#E"/><use href="#R"/></g><g id="n25_2" class="b" transform="translate(136,1310)"><use href="#E"/><use href="#R"/></g><g id="n25_3" class="b" transform="translate(188,1310)"><use href="#E"/><use href="#R"/></g><g id="n25_4" class="w" transform="translate(240,1310)"><use href="#E"/><use href="#R"/></g><g id="n25_5" class="w" transform="translate(292,1310)"><use href="#E"/><use href="#R"/></g><g id="n25_6" class="w" transform="translate(344,1310)"><use href="#E"/><use href="#R"/></g><g id="n25_7" class="b" transform="translate(396,1310)"><use href="#E"/><use href="#R"/></g><g id="n25_8" class="b" transform="translate(448,1310)"><use href="#E"/><use href="#R"/></g><g id="n25_9" class="b" transform="translate(500,1310)"><use href="#E"/><use href="#R"/></g><g id="n25_10" class="b" transform="translate(552,1310)"><use href="#E"/><use href="#R"/></g><g id="n25_11" class="b" transform="translate(604,1310)"><use href="#E"/><use href="#R"/></g>
<g id="n26_1" class="b" transform="translate(84,1362)"><use href="#E"/><use href="#L"/></g><g id="n26_2" class="b" transform="translate(136,1362)"><use href="#E"/><use href="#L"/></g><g id="n26_3" class="b" transform="translate(188,1362)"><use href="#E"/><use href="#L"/></g><g id="n26_4" class="w" transform="translate(240,1362)"><use href="#E"/><use href="#L"/></g><g id="n26_5" class="w" transform="translate(292,1362)"><use href="#E"/><use href="#L"/></g><g id="n26_6" class="w" transform="translate(344,1362)"><use href="#E"/><use href="#L"/></g><g id="n26_7" class="b" transform="translate(396,1362)"><use href="#E"/><use href="#L"/></g><g id="n26_8" class="b" transform="translate(448,1362)"><use href="#E"/><use href="#L"/></g><g id="n26_9" class="b" transform="translate(500,1362)"><use href="#E"/><use href="#L"/></g><g id="n26_10" class="b" transform="translate(552,1362)"><use href="#E"/><use href="#L"/></g><g id="n26_11" class="b" transform="translate(604,1362)"><use href="#E"/><use href="#L"/></g>
<g id="n27_1" class="b" transform="translate(84,1414)"><use href="#E"/><use href="#R"/></g><g id="n27_2" class="b" transform="translate(136,1414)"><use href="#E"/><use href="#R"/></g><g id="n27_3" class="w" transform="translate(188,1414)"><use href="#E"/><use href="#R"/></g><g id="n27_4" class="w" transform="translate(240,1414)"><use href="#E"/><use href="#R"/></g><g id="n27_5" class="g" transform="translate(292,1414)"><use href="#E"/><use href="#RW"/></g><g id="n27_6" class="w" transform="translate(344,1414)"><use href="#E"/><use href="#R"/></g><g id="n27_7" class="w" transform="translate(396,1414)"><use href="#E"/><use href="#R"/></g><g id="n27_8" class="b" transform="translate(448,1414)"><use href="#E"/><use href="#R"/></g><g id="n27_9" class="b" transform="translate(500,1414)"><use href="#E"/><use href="#R"/></g><g id="n27_10" class="b" transform="translate(552,1414)"><use href="#E"/><use href="#R"/></g><g id="n27_11" class="b" transform="translate(604,1414)"><use href="#E"/><use href="#R"/></g>
<g id="n28_1" class="b" transform="translate(84,1466)"><use href="#E"/><use href="#L"/></g><g id="n28_2" class="b" transform="translate(136,1466)"><use href="#E"/><use href="#L"/></g><g id="n28_3" class="w" transform="translate(188,1466)"><use href="#E"/><use href="#L"/></g><g id="n28_4" class="g" transform="translate(240,1466)"><use href="#E"/><use href="#LW"/></g><g id="n28_5" class="w" transform="translate(292,1466)"><use href="#E"/><use href="#L"/></g><g id="n28_6" class="w" transform="translate(344,1466)"><use href="#E"/><use href="#L"/></g><g id="n28_7" class="w" transform="translate(396,1466)"><use href="#E"/><use href="#L"/></g><g id="n28_8" class="b" transform="translate(448,1466)"><use href="#E"/><use href="#L"/></g><g id="n28_9" class="b" transform="translate(500,1466)"><use href="#E"/><use href="#L"/></g><g id="n28_10" class="b" transform="translate(552,1466)"><use href="#E"/><use href="#L"/></g><g id="n28_11" class="b" transform="translate(604,1466)"><use href="#E"/><use href="#L"/></g>
<g id="n29_1" class="b" transform="translate(84,1518)"><use href="#E"/><use href="#R"/></g><g id="n29_2" class="b" transform="translate(136,1518)"><use href="#E"/><use href="#R"/></g><g id="n29_3" class="w" transform="translate(188,1518)"><use href="#E"/><use href="#R"/></g><g id="n29_4" class="g" transform="translate(240,1518)"><use href="#E"/><use href="#RW"/></g><g id="n29_5" class="w" transform="translate(292,1518)"><use href="#E"/><use href="#R"/></g><g id="n29_6" class="w" transform="translate(344,1518)"><use href="#E"/><use href="#R"/></g><g id="n29_7" class="w" transform="translate(396,1518)"><use href="#E"/><use href="#R"/></g><g id="n29_8" class="b" transform="translate(448,1518)"><use href="#E"/><use href="#R"/></g><g id="n29_9" class="b" transform="translate(500,1518)"><use href="#E"/><use href="#R"/></g><g id="n29_10" class="b" transform="translate(552,1518)"><use href="#E"/><use href="#R"/></g><g id="n29_11" class="b" transform="translate(604,1518)"><use href="#E"/><use href="#R"/></g>
<g id="n30_1" class="b" transform="translate(84,1570)"><use href="#E"/><use href="#L"/></g><g id="n30_2" class="o" transform="translate(136,1570)"><use href="#E"/><use href="#LW"/></g><g id="n30_3" class="o" transform="translate(188,1570)"><use href="#E"/><use href="#LW"/></g><g id="n30_4" class="w" transform="translate(240,1570)"><use href="#E"/><use href="#L"/></g><g id="n30_5" class="g" transform="translate(292,1570)"><use href="#E"/><use href="#LW"/></g><g id="n30_6" class="w" transform="translate(344,1570)"><use href="#E"/><use href="#L"/></g><g id="n30_7" class="w" transform="translate(396,1570)"><use href="#E"/><use href="#L"/></g><g id="n30_8" class="b" transform="translate(448,1570)"><use href="#E"/><use href="#L"/></g><g id="n30_9" class="b" transform="translate(500,1570)"><use href="#E"/><use href="#L"/></g><g id="n30_10" class="b" transform="translate(552,1570)"><use href="#E"/><use href="#L"/></g><g id="n30_11" class="b" transform="translate(604,1570)"><use href="#E"/><use href="#L"/></g>
<g id="n31_1" class="b" transform="translate(84,1622)"><use href="#E"/><use href="#R"/></g><g id="n31_2" class="o" transform="translate(136,1622)"><use href="#E"/><use href="#RW"/></g><g id="n31_3" class="w" transform="translate(188,1622)"><use href="#E"/><use href="#R"/></g><g id="n31_4" class="w" transform="translate(240,1622)"><use href="#E"/><use href="#R"/></g><g id="n31_5" class="g" transform="translate(292,1622)"><use href="#E"/><use href="#RW"/></g><g id="n31_6" class="w" transform="translate(344,1622)"><use href="#E"/><use href="#R"/></g><g id="n31_7" class="w" transform="translate(396,1622)"><use href="#E"/><use href="#R"/></g><g id="n31_8" class="w" transform="translate(448,1622)"><use href="#E"/><use href="#R"/></g><g id="n31_9" class="b" transform="translate(500,1622)"><use href="#E"/><use href="#R"/></g><g id="n31_10" class="b" transform="translate(552,1622)"><use href="#E"/><use href="#R"/></g><g id="n31_11" class="b" transform="translate(604,1622)"><use href="#E"/><use href="#R"/></g>
<g id="n32_1" class="b" transform="translate(84,1674)"><use href="#E"/><use href="#L"/></g><g id="n32_2" class="b" transform="translate(136,1674)"><use href="#E"/><use href="#L"/></g><g id="n32_3" class="w" transform="translate(188,1674)"><use href="#E"/><use href="#L"/></g><g id="n32_4" class="w" transform="translate(240,1674)"><use href="#E"/><use href="#L"/></g><g id="n32_5" class="w" transform="translate(292,1674)"><use href="#E"/><use href="#L"/></g><g id="n32_6" class="g" transform="translate(344,1674)"><use href="#E"/><use href="#LW"/></g><g id="n32_7" class="w" transform="translate(396,1674)"><use href="#E"/><use href="#L"/></g><g id="n32_8" class="w" transform="translate(448,1674)"><use href="#E"/><use href="#L"/></g><g id="n32_9" class="w" transform="translate(500,1674)"><use href="#E"/><use href="#L"/></g><g id="n32_10" class="b" transform="translate(552,1674)"><use href="#E"/><use href="#L"/></g><g id="n32_11" class="b" transform="translate(604,1674)"><use href="#E"/><use href="#L"/></g>
<g id="n33_1" class="b" transform="translate(84,1726)"><use href="#E"/><use href="#R"/></g><g id="n33_2" class="b" transform="translate(136,1726)"><use href="#E"/><use href="#R"/></g><g id="n33_3" class="w" transform="translate(188,1726)"><use href="#E"/><use href="#R"/></g><g id="n33_4" class="w" transform="translate(240,1726)"><use href="#E"/><use href="#R"/></g><g id="n33_5" class="w" transform="translate(292,1726)"><use href="#E"/><use href="#R"/></g><g id="n33_6" class="w" transform="translate(344,1726)"><use href="#E"/><use href="#R"/></g><g id="n33_7" class="w" transform="translate(396,1726)"><use href="#E"/><use href="#R"/></g><g id="n33_8" class="w" transform="translate(448,1726)"><use href="#E"/><use href="#R"/></g><g id="n33_9" class="w" transform="translate(500,1726)"><use href="#E"/><use href="#R"/></g><g id="n33_10" class="w" transform="translate(552,1726)"><use href="#E"/><use href="#R"/></g><g id="n33_11" class="b" transform="translate(604,1726)"><use href="#E"/><use href="#R"/></g>
<g id="n34_1" class="b" transform="translate(84,1778)"><use href="#E"/><use href="#L"/></g><g id="n34_2" class="b" transform="translate(136,1778)"><use href="#E"/><use href="#L"/></g><g id="n34_3" class="b" transform="translate(188,1778)"><use href="#E"/><use href="#L"/></g><g id="n34_4" class="w" transform="translate(240,1778)"><use href="#E"/><use href="#L"/></g><g id="n34_5" class="w" transform="translate(292,1778)"><use href="#E"/><use href="#L"/></g><g id="n34_6" class="w" transform="translate(344,1778)"><use href="#E"/><use href="#L"/></g><g id="n34_7" class="w" transform="translate(396,1778)"><use href="#E"/><use href="#L"/></g><g id="n34_8" class="w" transform="translate(448,1778)"><use href="#E"/><use href="#L"/></g><g id="n34_9" class="k" transform="translate(500,1778)"><use href="#E"/><use href="#LW"/></g><g id="n34_10" class="w" transform="translate(552,1778)"><use href="#E"/><use href="#L"/></g><g id="n34_11" class="b" transform="translate(604,1778)"><use href="#E"/><use href="#L"/></g>
<g id="n35_1" class="b" transform="translate(84,1830)"><use href="#E"/><use href="#R"/></g><g id="n35_2" class="b" transform="translate(136,1830)"><use href="#E"/><use href="#R"/></g><g id="n35_3" class="b" transform="translate(188,1830)"><use href="#E"/><use href="#R"/></g><g id="n35_4" class="b" transform="translate(240,1830)"><use href="#E"/><use href="#R"/></g><g id="n35_5" class="b" transform="translate(292,1830)"><use href="#E"/><use href="#R"/></g><g id="n35_6" class="b" transform="translate(344,1830)"><use href="#E"/><use href="#R"/></g><g id="n35_7" class="w" transform="translate(396,1830)"><use href="#E"/><use href="#R"/></g><g id="n35_8" class="w" transform="translate(448,1830)"><use href="#E"/><use href="#R"/></g><g id="n35_9" class="w" transform="translate(500,1830)"><use href="#E"/><use href="#R"/></g><g id="n35_10" class="w" transform="translate(552,1830)"><use href="#E"/><use href="#R"/></g><g id="n35_11" class="b" transform="translate(604,1830)"><use href="#E"/><use href="#R"/></g>
<g id="n36_1" class="b" transform="translate(84,1882)"><use href="#E"/><use href="#L"/></g><g id="n36_2" class="b" transform="translate(136,1882)"><use href="#E"/><use href="#L"/></g><g id="n36_3" class="b" transform="translate(188,1882)"><use href="#E"/><use href="#L"/></g><g id="n36_4" class="b" transform="translate(240,1882)"><use href="#E"/><use href="#L"/></g><g id="n36_5" class="b" transform="translate(292,1882)"><use href="#E"/><use href="#L"/></g><g id="n36_6" class="b" transform="translate(344,1882)"><use href="#E"/><use href="#L"/></g><g id="n36_7" class="o" transform="translate(396,1882)"><use href="#E"/><use href="#LW"/></g><g id="n36_8" class="o" transform="translate(448,1882)"><use href="#E"/><use href="#LW"/></g><g id="n36_9" class="w" transform="translate(500,1882)"><use href="#E"/><use href="#L"/></g><g id="n36_10" class="b" transform="translate(552,1882)"><use href="#E"/><use href="#L"/></g><g id="n36_11" class="b" transform="translate(604,1882)"><use href="#E"/><use href="#L"/></g>
<g id="n37_1" class="b" transform="translate(84,1934)"><use href="#E"/><use href="#R"/></g><g id="n37_2" class="b" transform="translate(136,1934)"><use href="#E"/><use href="#R"/></g><g id="n37_3" class="b" transform="translate(188,1934)"><use href="#E"/><use href="#R"/></g><g id="n37_4" class="b" transform="translate(240,1934)"><use href="#E"/><use href="#R"/></g><g id="n37_5" class="b" transform="translate(292,1934)"><use href="#E"/><use href="#R"/></g><g id="n37_6" class="b" transform="translate(344,1934)"><use href="#E"/><use href="#R"/></g><g id="n37_7" class="b" transform="translate(396,1934)"><use href="#E"/><use href="#R"/></g><g id="n37_8" class="o" transform="translate(448,1934)"><use href="#E"/><use href="#RW"/></g><g id="n37_9" class="b" transform="translate(500,1934)"><use href="#E"/><use href="#R"/></g><g id="n37_10" class="b" transform="translate(552,1934)"><use href="#E"/><use href="#R"/></g><g id="n37_11" class="b" transform="translate(604,1934)"><use href="#E"/><use href="#R"/></g>
<g id="n38_1" class="b" transform="translate(84,1986)"><use href="#E"/><use href="#L"/></g><g id="n38_2" class="b" transform="translate(136,1986)"><use href="#E"/><use href="#L"/></g><g id="n38_3" class="b" transform="translate(188,1986)"><use href="#E"/><use href="#L"/></g><g id="n38_4" class="b" transform="translate(240,1986)"><use href="#E"/><use href="#L"/></g><g id="n38_5" class="b" transform="translate(292,1986)"><use href="#E"/><use href="#L"/></g><g id="n38_6" class="b" transform="translate(344,1986)"><use href="#E"/><use href="#L"/></g><g id="n38_7" class="b" transform="translate(396,1986)"><use href="#E"/><use href="#L"/></g><g id="n38_8" class="b" transform="translate(448,1986)"><use href="#E"/><use href="#L"/></g><g id="n38_9" class="b" transform="translate(500,1986)"><use href="#E"/><use href="#L"/></g><g id="n38_10" class="b" transform="translate(552,1986)"><use href="#E"/><use href="#L"/></g><g id="n38_11" class="b" transform="translate(604,1986)"><use href="#E"/><use href="#L"/></g>
<g id="n39_1" class="b" transform="translate(84,2038)"><use href="#E"/><use href="#R"/></g><g id="n39_2" class="b" transform="translate(136,2038)"><use href="#E"/><use href="#R"/></g><g id="n39_3" class="b" transform="translate(188,2038)"><use href="#E"/><use href="#R"/></g><g id="n39_4" class="b" transform="translate(240,2038)"><use href="#E"/><use href="#R"/></g><g id="n39_5" class="b" transform="translate(292,2038)"><use href="#E"/><use href="#R"/></g><g id="n39_6" class="b" transform="translate(344,2038)"><use href="#E"/><use href="#R"/></g><g id="n39_7" class="b" transform="translate(396,2038)"><use href="#E"/><use href="#R"/></g><g id="n39_8" class="b" transform="translate(448,2038)"><use href="#E"/><use href="#R"/></g><g id="n39_9" class="b" transform="translate(500,2038)"><use href="#E"/><use href="#R"/></g><g id="n39_10" class="b" transform="translate(552,2038)"><use href="#E"/><use href="#R"/></g><g id="n39_11" class="b" transform="translate(604,2038)"><use href="#E"/><use href="#R"/></g>
<g id="n40_1" class="b" transform="translate(84,2090)"><use href="#E"/><use href="#L"/></g><g id="n40_2" class="b" transform="translate(136,2090)"><use href="#E"/><use href="#L"/></g><g id="n40_3" class="b" transform="translate(188,2090)"><use href="#E"/><use href="#L"/></g><g id="n40_4" class="b" transform="translate(240,2090)"><use href="#E"/><use href="#L"/></g><g id="n40_5" class="b" transform="translate(292,2090)"><use href="#E"/><use href="#L"/></g><g id="n40_6" class="b" transform="translate(344,2090)"><use href="#E"/><use href="#L"/></g><g id="n40_7" class="b" transform="translate(396,2090)"><use href="#E"/><use href="#L"/></g><g id="n40_8" class="b" transform="translate(448,2090)"><use href="#E"/><use href="#L"/></g><g id="n40_9" class="b" transform="translate(500,2090)"><use href="#E"/><use href="#L"/></g><g id="n40_10" class="b" transform="translate(552,2090)"><use href="#E"/><use href="#L"/></g><g id="n40_11" class="b" transform="translate(604,2090)"><use href="#E"/><use href="#L"/></g>
</g>
<text id="watermark" x="344.5" y="1081.5" text-anchor="middle" font-family="'Liberation Sans',Arial,sans-serif" font-weight="bold" font-size="14" fill="#3c3c3c">BRACELETBOOK.COM</text>
</svg>
